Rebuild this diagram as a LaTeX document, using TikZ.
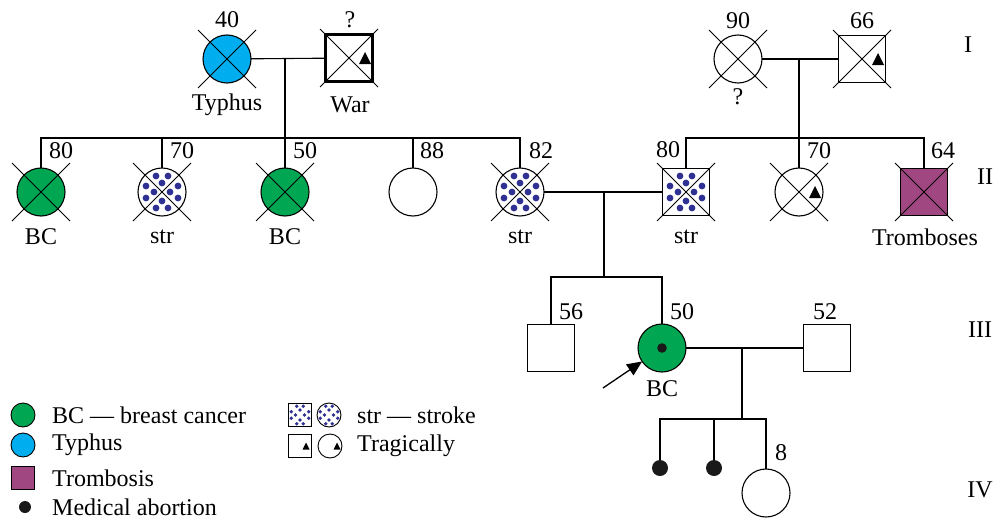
\documentclass[tikz,border=0pt]{standalone}
\usepackage{fontspec}
\setmainfont{Liberation Serif}
\usetikzlibrary{arrows.meta,calc}
\definecolor{bcgreen}{RGB}{0,166,81}
\definecolor{tycyan}{RGB}{0,174,239}
\definecolor{trpurple}{RGB}{160,70,128}
\definecolor{strnavy}{RGB}{46,49,146}
\newcommand\xcross[1]{\draw[crossl] ($(#1)+(-29,-29)$) -- ($(#1)+(29,29)$) ($(#1)+(29,-29)$) -- ($(#1)+(-29,29)$);}
\newcommand\strdots[2]{\foreach \dx/\dy in {-6/-16,6/-16,0/-9,-16/-6,16/-6,-8/0,8/0,-16/6,16/6,0/9,-6/16,6/16}{\fill[strnavy] ($(#1)+(#2*\dx,#2*\dy)$) circle ({#2*3.4});}}
\newcommand\trimark[3]{\fill ($(#1)+(#2,0)$) ++({-#3},{#3}) -- ++({2*#3},0) -- ++({-#3},{-2*#3}) -- cycle;}
\begin{document}
\begin{tikzpicture}[x=1pt,y=-1pt,
  every node/.style={font=\fontsize{24}{28}\selectfont,inner sep=0pt},
  person/.style={draw,line width=1.1pt,inner sep=0pt,outer sep=0pt},
  fem/.style={person,circle,minimum size=48pt},
  mal/.style={person,rectangle,minimum size=47pt},
  sfem/.style={person,circle,minimum size=24pt,line width=0.9pt},
  smal/.style={person,rectangle,minimum size=23pt,line width=0.9pt},
  thinl/.style={line width=1.1pt},
  thickl/.style={line width=2.6pt,line join=miter},
  crossl/.style={line width=0.9pt},
  dotp/.style={circle,fill=black!90,minimum size=16pt},
  txt/.style={anchor=west}]
\useasboundingbox (0,0) rectangle (1000,519);

% ---------- Generation I
\node[fem,fill=tycyan] (t40) at (227,59) {};
\node[mal,line width=2.2pt] (war) at (349,58) {};
\node[fem] (c90) at (738,59) {};
\node[mal,line width=1.5pt] (s66) at (862,59) {};
\xcross{t40}\xcross{war}\xcross{c90}\xcross{s66}
\trimark{war}{16}{6}
\trimark{s66}{16}{6}
\node (l40) at (227,20) {40};
\node (lq1) at (350,20) {?};
\node (ltyph) at (227,105) {Typhus};
\node (lwar) at (350,105) {War};
\node (l90) at (738,21) {90};
\node (lq2) at (738,97) {?};
\node (l66) at (862,21) {66};

\coordinate (jI1) at (285,59);
\coordinate (jI2) at (799,59);
\draw[thinl] (t40) -- (war);
\draw[thinl] (c90) -- (s66);

% ---------- Generation II
\node[fem,fill=bcgreen] (n80) at (41,192) {};
\node[fem] (n70) at (162,192) {};
\node[fem,fill=bcgreen] (n50) at (285,192) {};
\node[fem] (n88) at (413,192) {};
\node[fem] (n82) at (520,192) {};
\node[mal] (s80) at (686,192) {};
\node[fem] (c70) at (799,192) {};
\node[mal,fill=trpurple] (s64) at (924,192) {};
\strdots{n70}{1}\strdots{n82}{1}\strdots{s80}{1}
\trimark{c70}{16}{6}
\xcross{n80}\xcross{n70}\xcross{n50}\xcross{n82}\xcross{s80}\xcross{c70}\xcross{s64}

\coordinate (sibLa) at (41,138);
\coordinate (sibLb) at (520,138);
\coordinate (sibR) at (686,138);
\coordinate (j2) at (604,192);
\draw[thickl] (n80) -- (sibLa) -- (sibLb) -- (n82);
\draw[thickl] (jI1) -- (n50);
\draw[thinl] (n70) -- (n70 |- sibLa);
\draw[thinl] (n88) -- (n88 |- sibLa);
\draw[thinl] (s80) -- (sibR) -- (sibR -| s64) -- (s64);
\draw[thinl] (jI2) -- (c70);
\draw[thickl] (n82) -- (j2);
\draw[thinl] (j2) -- (s80);

\node (a80) at (61,151) {80};
\node (a70) at (182,151) {70};
\node (a50) at (305,151) {50};
\node (a88) at (432,151) {88};
\node (a82) at (541,151) {82};
\node (b80) at (668,150) {80};
\node (b70) at (819,151) {70};
\node (b64) at (943,151) {64};
\node (t1) at (41,237) {BC};
\node (t2) at (162,237) {str};
\node (t3) at (285,237) {BC};
\node (t4) at (520,237) {str};
\node (t5) at (686,237) {str};
\node (t6) at (925,237) {Tromboses};

% ---------- Generation III
\node[mal] (s56) at (551,348) {};
\node[fem,fill=bcgreen] (c50p) at (662,348) {};
\fill[black!90] (c50p) circle (4.8);
\node[mal] (s52) at (827,348) {};
\coordinate (sib3) at (604,277);
\draw[thickl] (j2) -- (sib3) -- (sib3 -| c50p) -- (c50p);
\draw[thinl] (sib3) -- (sib3 -| s56) -- (s56);
\draw[thinl] (c50p) -- (s52);
\coordinate (arrowtail) at (603,388);
\draw[line width=1.3pt,-{Triangle[length=15pt,width=13pt]}] (arrowtail) -- (c50p);
\node (a56) at (571,312) {56};
\node (a50p) at (682,312) {50};
\node (a52) at (825,312) {52};
\node (tbc) at (662,389) {BC};

% ---------- Generation IV
\coordinate (j3) at (742,348);
\coordinate (sib4) at (742,419);
\node[dotp] (d1) at (660,468) {};
\node[dotp] (d2) at (714,468) {};
\node[fem] (c8) at (766,493) {};
\draw[thinl] (j3) -- (sib4);
\draw[thinl] (d1) -- (d1 |- sib4) -- (sib4 -| c8) -- (c8);
\draw[thinl] (d2) -- (d2 |- sib4);
\node (a8) at (781,453) {8};

% ---------- Generation numerals
\node (gI) at (968,45) {I};
\node (gII) at (985,177) {II};
\node (gIII) at (980,330) {III};
\node (gIV) at (980,490) {IV};

% ---------- Legend
\node[sfem,fill=bcgreen] (lg1) at (23,415) {};
\node[sfem,fill=tycyan] (lg2) at (23,445) {};
\node[smal,fill=trpurple] (lg3) at (23,478) {};
\node[circle,fill=black!90,minimum size=12pt] (lg4) at (25,507) {};
\node[txt] (lt1) at (52,415) {BC — breast cancer};
\node[txt] (lt2) at (52,445) {Typhus};
\node[txt] (lt3) at (52,478) {Trombosis};
\node[txt] (lt4) at (52,507) {Medical abortion};
\node[smal] (lg5) at (300,415) {};
\node[sfem] (lg6) at (329,415) {};
\strdots{lg5}{0.55}\strdots{lg6}{0.55}
\node[smal] (lg7) at (300,446) {};
\node[sfem] (lg8) at (330,446) {};
\trimark{lg7}{6}{3.5}
\trimark{lg8}{7}{3.5}
\node[txt] (lt5) at (357,415) {str — stroke};
\node[txt] (lt6) at (357,446) {Tragically};
\end{tikzpicture}
\end{document}
